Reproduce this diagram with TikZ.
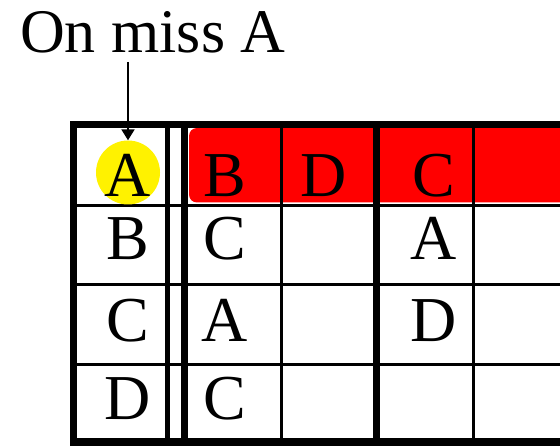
\documentclass[tikz,border=0pt]{standalone}
\usepackage{fontspec}
\setmainfont{Liberation Serif}
\usetikzlibrary{arrows.meta}

\begin{document}
\begin{tikzpicture}[x=1pt, y=-1pt,
        caption/.style={font=\fontsize{62}{62}\selectfont, inner sep=0pt, anchor=base west},
        entry/.style={font=\fontsize{64}{64}\selectfont, inner sep=0pt, anchor=base},
        hitmark/.style={circle, fill=yellow, minimum size=64pt, inner sep=0pt},
        heavy/.style={line width=7pt},
        medium/.style={line width=5pt},
        light/.style={line width=3pt},
        pointer/.style={draw, line width=2pt, -{Triangle[width=13pt, length=11pt]}}
    ]
        \useasboundingbox (0,0) rectangle (560,446);
        \clip (0,0) rectangle (560,446);

        % red top row of the history columns
        \fill[red, rounded corners=8pt] (189,128) rectangle (640,202.5);

        % grid
        \foreach \y in {205.5, 284.5, 364.5}
            \draw[light] (73,\y) -- (600,\y);
        \draw[medium] (167.5,124.5) -- (167.5,442);
        \draw[heavy] (184,124.5) -- (184,442);
        \draw[light] (281,124.5) -- (281,442);
        \draw[heavy] (376.5,124.5) -- (376.5,442);
        \draw[light] (473.5,124.5) -- (473.5,442);
        \draw[heavy] (73,124.5) rectangle (620,442);

        % missed entry
        \node[hitmark] (hit) at (128,172.5) {};

        \foreach \x/\y/\t [count=\i] in {128/197/A, 128/260/B, 128/342/C, 128/420/D,
                225/197/B, 225/260/C, 225/342/A, 225/420/C,
                323.5/197/D, 434/197/C, 434/260/A, 434/342/D}
            \node[entry] (e\i) at (\x,\y) {\t};

        \node[caption] (title) at (20,53) {On miss A};
        \coordinate (start) at (128,62);
        \draw[pointer] (start) -- (hit.north);
    \end{tikzpicture}
\end{document}
